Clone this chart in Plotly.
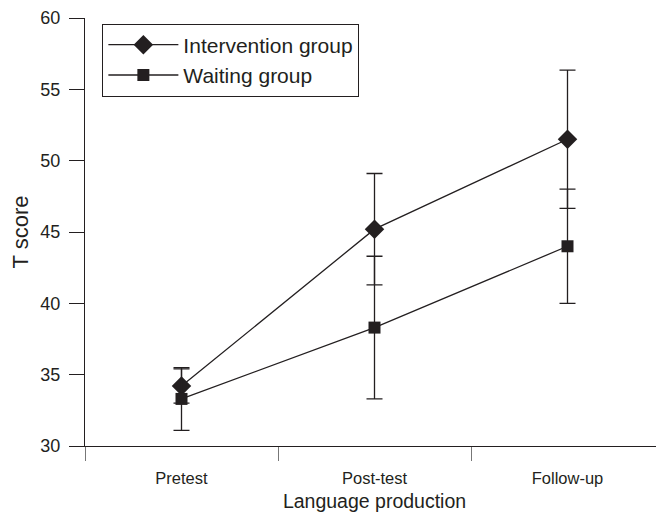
import plotly.graph_objects as go

categories = ["Pretest", "Post-test", "Follow-up"]
intervention = [34.2, 45.2, 51.5]
intervention_err = [1.2, 3.9, 4.85]
waiting = [33.3, 38.3, 44.0]
waiting_err = [2.2, 5.0, 4.0]
y_ticks = [30, 35, 40, 45, 50, 55, 60]

ink = "#231f20"
fig = go.Figure()
fig.add_trace(go.Scatter(
    x=categories, y=intervention, name="Intervention group", mode="lines+markers",
    line=dict(color=ink, width=1.3),
    marker=dict(symbol="diamond", size=15, color=ink),
    error_y=dict(type="data", array=intervention_err, color=ink, thickness=1.3, width=8),
))
fig.add_trace(go.Scatter(
    x=categories, y=waiting, name="Waiting group", mode="lines+markers",
    line=dict(color=ink, width=1.3),
    marker=dict(symbol="square", size=12, color=ink),
    error_y=dict(type="data", array=waiting_err, color=ink, thickness=1.3, width=8),
))

font = "Liberation Sans, Arial, sans-serif"
fig.update_layout(
    width=656, height=505,
    margin=dict(l=77, r=0, t=10, b=67),
    paper_bgcolor="white", plot_bgcolor="white",
    font=dict(family=font, color=ink, size=16),
    showlegend=True,
    legend=dict(
        x=0.03, y=0.987, xanchor="left", yanchor="top",
        bordercolor=ink, borderwidth=1, bgcolor="white",
        font=dict(size=21, family=font, color=ink),
        itemwidth=70, tracegroupgap=0,
    ),
    xaxis=dict(
        type="category", range=[-0.5, 2.5],
        showline=True, linecolor=ink, linewidth=1.3,
        ticks="outside", tickson="boundaries", ticklen=14, tickcolor="#777", tickwidth=1,
        ticklabelstandoff=17,
        showgrid=False, zeroline=False,
        tickfont=dict(size=16.5),
        title=dict(text="Language production", font=dict(size=19.5), standoff=8),
    ),
    yaxis=dict(
        range=[30, 60], tickvals=y_ticks,
        showline=True, linecolor=ink, linewidth=1.3,
        ticks="outside", ticklen=15, tickcolor=ink, tickwidth=1.3,
        ticklabelstandoff=5,
        showgrid=False, zeroline=False,
        tickfont=dict(size=18),
        title=dict(text="T score", font=dict(size=22), standoff=10),
    ),
)

fig.write_html("out.html")
